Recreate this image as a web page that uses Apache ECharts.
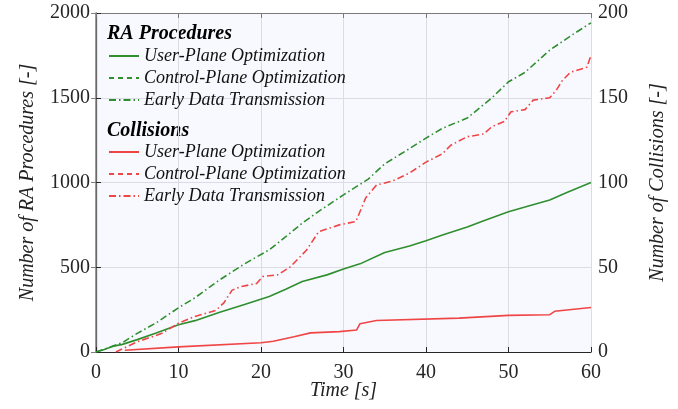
<!DOCTYPE html>
<html>
<head>
<meta charset="utf-8">
<script src="https://cdn.jsdelivr.net/npm/echarts@6/dist/echarts.min.js"></script>
<style>html,body{margin:0;padding:0;background:#fff;}#c{width:678px;height:409px;}</style>
</head>
<body>
<div id="c"></div>
<script>
// ---- data ----
const xTicks = [0, 10, 20, 30, 40, 50, 60];
const leftTicks = [0, 500, 1000, 1500, 2000];
const rightTicks = [0, 50, 100, 150, 200];
const seriesNames = ['User-Plane Optimization', 'Control-Plane Optimization', 'Early Data Transmission'];

const raUP_t = [0,1,2,3.2,5,7.3,10,12,15,18,21,23,25,28,30,32,35,38,40,42,45,47,50,52,55,57,60];
const raUP_v = [0,15,33,45,73,112,161,185,235,280,328,370,416,455,490,520,587,625,657,690,738,775,828,855,897,940,1000];
const raCP_t = [];
const raCP_v = [];
const raEDT_t = [0,3.2,5,7.3,10,12,15,18,21,23,25,27,30,33,35,38,40,42,45,48,50,52,55,58,60];
const raEDT_v = [0,55,110,172,261,320,426,520,603,680,760,830,927,1020,1110,1200,1262,1320,1380,1500,1594,1650,1781,1880,1942];

const colUP_t = [3.5,10,20,21.5,24,26,29.5,31.6,32,34,44,50,55,55.6,60];
const colUP_v = [1,3,5.5,6.3,9,11.3,12,13,16.7,18.6,20,21.6,22,24,26.3];
const colCP_t = [];
const colCP_v = [];
const colEDT_t = [2.4,5,8,10,12,14.5,15.5,16.5,17.5,19.5,20.2,22,23.5,25.5,27,28,29.5,31.5,32.7,34,36,38,40,42,43,45,47,48,49.5,50.3,52,53,55,55.8,56.5,57.5,59.5,60];
const colEDT_v = [0,6,11,17,21,24.5,29,36.5,38.5,40.5,44.5,45.5,50,60,71,72.6,75,77,91,98.5,101,105.6,112,117,122,127,128.6,133,136,141.7,143,148.6,150,154.5,160,165,168,175];

// ---- styling ----
const GREEN = '#2f8f2f';
const RED = '#f04545';
const FONT = 'Liberation Serif';
const DASH = [5, 4];
const DASHDOT = [7, 3, 1.5, 3];
const zip = (t, v) => t.map((x, i) => [x, v[i]]);
const COL_PREFIX = 'Collisions: ';

function mk(name, t, v, color, type, yIdx) {
  return {
    name: name, type: 'line', xAxisIndex: 0, yAxisIndex: yIdx, data: zip(t, v),
    symbol: 'none', showSymbol: false, animation: false,
    lineStyle: { color: color, width: 1.6, type: type },
    itemStyle: { color: color }
  };
}

const series = [
  mk(seriesNames[0], raUP_t, raUP_v, GREEN, 'solid', 0),
  mk(seriesNames[1], raCP_t, raCP_v, GREEN, DASH, 0),
  mk(seriesNames[2], raEDT_t, raEDT_v, GREEN, DASHDOT, 0),
  mk(COL_PREFIX + seriesNames[0], colUP_t, colUP_v, RED, 'solid', 1),
  mk(COL_PREFIX + seriesNames[1], colCP_t, colCP_v, RED, DASH, 1),
  mk(COL_PREFIX + seriesNames[2], colEDT_t, colEDT_v, RED, DASHDOT, 1)
];

const legendBase = {
  orient: 'vertical', left: 108, padding: 0, itemWidth: 30, itemHeight: 14, itemGap: 4,
  itemStyle: { opacity: 0 },
  textStyle: { fontFamily: FONT, fontStyle: 'italic', fontSize: 18, color: '#111' },
  formatter: n => n.replace(COL_PREFIX, ''),
  selectedMode: false
};

const axisName = { fontFamily: FONT, fontStyle: 'italic', fontSize: 20, color: '#222' };
const tickFont = { fontFamily: FONT, fontSize: 20, color: '#262626' };

const chart = echarts.init(document.getElementById('c'), null, { renderer: 'canvas' });
chart.setOption({
  animation: false,
  backgroundColor: '#ffffff',
  grid: { left: 96, right: 87, top: 13, bottom: 57, show: true, backgroundColor: '#f8f9fe', borderWidth: 0 },
  legend: [
    Object.assign({}, legendBase, { top: 47, data: seriesNames.slice() }),
    Object.assign({}, legendBase, { top: 143, data: seriesNames.map(n => COL_PREFIX + n) })
  ],
  graphic: [
    { type: 'text', left: 107, top: 24, style: { text: 'RA Procedures', font: 'italic bold 20px "Liberation Serif"', fill: '#000' } },
    { type: 'text', left: 107, top: 121, style: { text: 'Collisions', font: 'italic bold 20px "Liberation Serif"', fill: '#000' } }
  ],
  xAxis: [{
    type: 'value', min: 0, max: 60, interval: 10, position: 'bottom',
    name: 'Time [s]', nameLocation: 'middle', nameGap: 29, nameMoveOverlap: false,
    nameTextStyle: axisName,
    axisLine: { show: true, onZero: false, lineStyle: { color: '#262626', width: 1.2 } },
    axisTick: { show: true, inside: true, length: 5, lineStyle: { color: '#262626' } },
    axisLabel: Object.assign({ margin: 11, formatter: v => xTicks.includes(v) ? String(v) : '' }, tickFont),
    splitLine: { show: true, lineStyle: { color: '#dcdde4', width: 1 } }
  }, {
    type: 'value', min: 0, max: 60, interval: 10, position: 'top',
    axisLine: { show: true, onZero: false, lineStyle: { color: '#7a7a7a', width: 1.2 } },
    axisTick: { show: true, inside: true, length: 5, lineStyle: { color: '#7a7a7a' } },
    axisLabel: { show: false }, splitLine: { show: false }
  }],
  yAxis: [
    {
      type: 'value', min: 0, max: 2000, interval: 500, position: 'left',
      name: 'Number of RA Procedures [-]', nameLocation: 'middle', nameGap: 58, nameMoveOverlap: false,
      nameTextStyle: axisName,
      axisLine: { show: true, lineStyle: { color: '#262626', width: 1.2 } },
      axisTick: { show: true, inside: true, length: 5, lineStyle: { color: '#262626' } },
      axisLabel: Object.assign({ margin: 6, formatter: v => leftTicks.includes(v) ? String(v) : '' }, tickFont),
      splitLine: { show: true, lineStyle: { color: '#dcdde4', width: 1 } }
    },
    {
      type: 'value', min: 0, max: 200, interval: 50, position: 'right',
      name: 'Number of Collisions [-]', nameLocation: 'middle', nameGap: 57, nameMoveOverlap: false,
      nameRotate: 90,
      nameTextStyle: axisName,
      axisLine: { show: true, lineStyle: { color: '#808080', width: 1.5 } },
      axisTick: { show: true, inside: true, length: 5, lineStyle: { color: '#808080' } },
      axisLabel: Object.assign({ margin: 7, formatter: v => rightTicks.includes(v) ? String(v) : '' }, tickFont),
      splitLine: { show: false }
    }
  ],
  series: series
});
</script>
</body>
</html>
